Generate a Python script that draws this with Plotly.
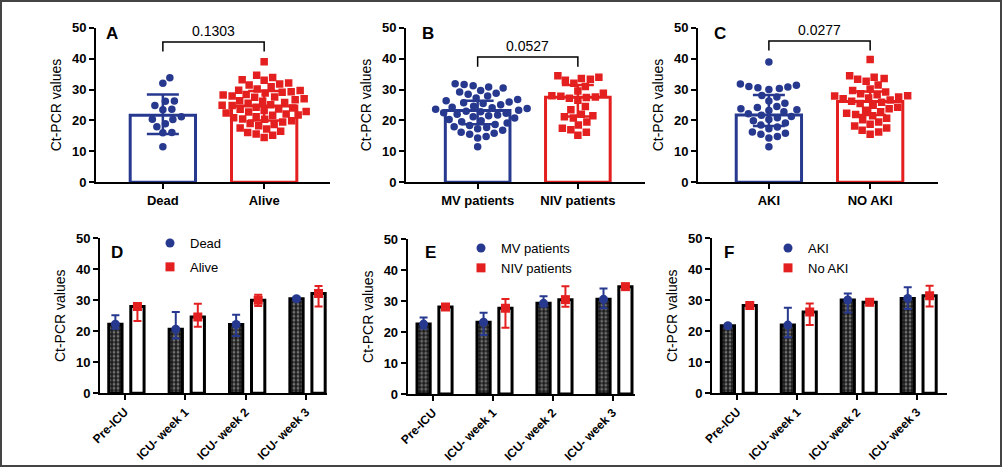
import plotly.graph_objects as go

W, H = 1004, 469
BLUE = "#27398f"
RED = "#e3201f"
FONT = "Liberation Sans, Arial, sans-serif"

# ---- top row: individual Ct values (median + IQR bars) ----
dead_vals = [33.8, 32.0, 26.3, 26.2, 24.8, 23.6, 23.5, 21.2, 20.4, 20.3, 18.9, 18.0, 16.1, 16.0, 11.5]
alive_vals = [39.0, 34.6, 33.9, 33.2, 33.0, 32.1, 31.8, 31.5, 30.9, 30.2, 29.8, 29.7, 29.3, 29.1,
              28.9, 28.4, 28.2, 27.9, 27.6, 27.5, 27.0, 26.7, 26.4, 26.2, 25.8, 25.6, 25.1, 24.9,
              24.8, 24.3, 24.0, 23.7, 23.6, 23.2, 22.9, 22.7, 22.4, 22.1, 21.8, 21.7, 21.2, 20.9,
              20.5, 20.4, 19.9, 19.5, 19.0, 18.7, 18.3, 17.6, 17.2, 16.5, 16.1, 15.6, 15.2, 14.5]
mv_vals = [31.9, 31.6, 31.2, 30.8, 30.5, 29.7, 29.2, 28.8, 28.5, 27.9, 27.3, 26.8, 26.4, 26.0,
           25.7, 25.5, 25.1, 24.6, 24.3, 24.1, 23.9, 23.6, 23.3, 23.0, 22.8, 22.5, 22.3, 22.0,
           21.8, 21.5, 21.2, 20.8, 20.3, 19.9, 19.6, 19.2, 18.7, 18.4, 18.0, 17.7, 17.3, 16.8,
           16.2, 15.9, 15.5, 14.8, 14.3, 11.5]
niv_vals = [34.5, 34.0, 33.6, 33.3, 33.0, 32.0, 31.0, 29.5, 28.8, 28.0, 27.8, 27.6, 27.4, 27.2,
            26.5, 24.5, 23.5, 22.0, 21.5, 21.2, 20.8, 19.5, 18.5, 17.5, 17.0, 16.2, 15.2]
aki_vals = [38.9, 31.8, 31.4, 31.0, 30.8, 30.6, 30.3, 30.0, 28.1, 27.6, 26.3, 25.6, 24.5, 24.2,
            23.8, 23.5, 23.2, 22.8, 22.2, 21.7, 21.3, 20.9, 20.3, 19.9, 19.2, 18.5, 17.9, 17.3,
            16.3, 15.9, 15.5, 14.8, 14.3, 11.5]
noaki_vals = [39.7, 34.5, 34.0, 33.6, 33.3, 32.7, 31.5, 30.2, 29.7, 29.2, 28.6, 28.3, 28.0, 27.9,
              27.6, 27.3, 27.0, 26.6, 26.2, 25.9, 25.5, 24.9, 24.3, 23.8, 23.3, 22.8, 22.3, 21.9,
              21.5, 20.7, 20.2, 19.5, 18.8, 18.2, 17.6, 16.8, 16.3, 15.5]

top_groups = [["Dead", "Alive"], ["MV patients", "NIV patients"], ["AKI", "NO AKI"]]
top_points = [[dead_vals, alive_vals], [mv_vals, niv_vals], [aki_vals, noaki_vals]]
top_median = [[21.7, 24.7], [23.2, 27.5], [21.8, 26.1]]
top_q1 = [[15.6, 20.0], [18.8, 21.3], [18.2, 21.8]]
top_q3 = [[28.4, 29.5], [26.4, 31.5], [28.2, 29.4]]
p_values = ["0.1303", "0.0527", "0.0277"]
top_letters = ["A", "B", "C"]

# ---- bottom row: follow-up over time ----
periods = ["Pre-ICU", "ICU- week 1", "ICU- week 2", "ICU- week 3"]
bot_names = [["Dead", "Alive"], ["MV patients", "NIV patients"], ["AKI", "No AKI"]]
bot_value = [
    [[22.3, 20.7, 22.2, 30.5], [28.0, 24.6, 30.0, 32.2]],
    [[22.6, 23.2, 29.3, 30.6], [28.1, 27.7, 30.5, 34.7]],
    [[21.8, 22.0, 30.1, 30.6], [28.3, 26.2, 29.4, 31.5]],
]
bot_low = [
    [[20.8, 17.7, 18.5, 30.0], [23.3, 21.5, 28.2, 28.0]],
    [[21.2, 19.1, 28.3, 27.7], [27.6, 21.4, 28.2, 34.2]],
    [[21.3, 18.1, 26.1, 27.2], [27.5, 22.0, 28.4, 28.0]],
]
bot_high = [
    [[25.2, 26.2, 25.3, 31.0], [28.6, 28.9, 31.8, 34.6]],
    [[24.7, 26.3, 31.6, 34.1], [28.5, 30.7, 34.8, 35.1]],
    [[22.2, 27.6, 32.2, 34.2], [29.0, 29.0, 30.4, 34.7]],
]
bot_letters = ["D", "E", "F"]

# panel geometry in pixels: (x_left, x_right, y_top, y_bottom)
top_box = [(96, 330, 27.7, 182.3), (406, 645, 27.7, 182.3), (698, 938, 27.7, 182.3)]
top_xrange = [(-0.66, 1.65), (-0.715, 1.67), (-0.70, 1.67)]
bot_box = [(100, 327, 238.3, 393.3), (407.7, 635, 239.3, 394), (712, 947, 238.3, 393.3)]
bot_xrange = [(-0.41, 3.35), (-0.42, 3.37), (-0.42, 3.5)]


def swarm(values, ppx, ppy, diam):
    # simple beeswarm: push each point sideways until it no longer overlaps
    placed = []
    offs = [0.0] * len(values)
    cand = [0.0]
    for k in range(1, 400):
        cand += [k * 0.5, -k * 0.5]
    for i in sorted(range(len(values)), key=lambda j: values[j]):
        y = values[i] * ppy
        for c in cand:
            if all((c - a) ** 2 + (y - b) ** 2 >= diam ** 2 for a, b in placed):
                placed.append((c, y))
                offs[i] = c / ppx
                break
    return offs


fig = go.Figure()
layout = dict(
    width=W, height=H, margin=dict(l=0, r=0, t=0, b=0, autoexpand=False),
    paper_bgcolor="white", plot_bgcolor="white",
    barmode="overlay", showlegend=True,
    font=dict(family=FONT, color="black", size=13),
)
annotations = []
shapes = []

axis_common = dict(showgrid=False, zeroline=False, showline=True, linecolor="black",
                   linewidth=2, ticks="outside", tickcolor="black", tickwidth=2,
                   ticklen=5, fixedrange=True, automargin=False)

colors = [BLUE, RED]
symbols = ["circle", "square"]

# top panels
for p in range(3):
    n = p + 1
    xa = "x" if n == 1 else f"x{n}"
    ya = "y" if n == 1 else f"y{n}"
    x0, x1, yt, yb = top_box[p]
    xr = top_xrange[p]
    ppx = (x1 - x0) / (xr[1] - xr[0])
    ppy = (yb - yt) / 50.0
    for g in range(2):
        fig.add_trace(go.Bar(
            x=[g], y=[top_median[p][g]], width=0.645, xaxis=xa, yaxis=ya,
            marker=dict(color="rgba(255,255,255,0)", line=dict(color=colors[g], width=3)),
            showlegend=False, hoverinfo="skip"))
        vals = top_points[p][g]
        offs = swarm(vals, ppx, ppy, 8.6)
        fig.add_trace(go.Scatter(
            x=[g + o for o in offs], y=vals, mode="markers", xaxis=xa, yaxis=ya,
            marker=dict(symbol=symbols[g], size=7.5, color=colors[g], line=dict(width=0)),
            showlegend=False, name=top_groups[p][g]))
        med = top_median[p][g]
        fig.add_trace(go.Scatter(
            x=[g], y=[med], mode="markers", xaxis=xa, yaxis=ya,
            marker=dict(size=1, color="rgba(0,0,0,0)"),
            error_y=dict(type="data", symmetric=False,
                         array=[top_q3[p][g] - med], arrayminus=[med - top_q1[p][g]],
                         color=colors[g], thickness=2.5, width=16),
            showlegend=False, hoverinfo="skip"))
    key = "" if n == 1 else str(n)
    layout["xaxis" + key] = dict(axis_common, domain=[x0 / W, x1 / W], range=list(xr),
                                 anchor=ya, tickvals=[0, 1], ticktext=top_groups[p],
                                 tickfont=dict(family=FONT, size=13, color="black", weight="bold"))
    layout["yaxis" + key] = dict(axis_common, domain=[1 - yb / H, 1 - yt / H], range=[0, 50],
                                 anchor=xa, tickvals=[0, 10, 20, 30, 40, 50],
                                 tickfont=dict(family=FONT, size=13, color="black", weight="bold"),
                                 title=dict(text="Ct-PCR values", standoff=7,
                                            font=dict(family=FONT, size=14, color="black")))
    # significance bracket
    bt = [45.4, 40.5, 45.7][p]
    shapes.append(dict(type="path", xref=xa, yref=ya,
                       path=f"M 0 {bt - 3.1} L 0 {bt} L 1 {bt} L 1 {bt - 3.1}",
                       line=dict(color="black", width=1.5)))
    annotations.append(dict(x=0.5, y=bt + 0.3, xref=xa, yref=ya, text=p_values[p],
                            showarrow=False, yanchor="bottom",
                            font=dict(family=FONT, size=14, color="black")))

letter_pos_top = [(112, 33), (428, 33), (720, 33)]
for p in range(3):
    lx, ly = letter_pos_top[p]
    annotations.append(dict(x=lx / W, y=1 - ly / H, xref="paper", yref="paper",
                            xanchor="center", yanchor="middle",
                            text=f"<b>{top_letters[p]}</b>", showarrow=False,
                            font=dict(family=FONT, size=17, color="black")))

# bottom panels
shift = [-0.155, 0.21]
legend_pos = [(150, 228), (461, 233), (768, 233)]
legend_gap = [4, 0, 0]
for p in range(3):
    n = p + 4
    xa, ya = f"x{n}", f"y{n}"
    x0, x1, yt, yb = bot_box[p]
    xr = bot_xrange[p]
    lg = "legend" if p == 0 else f"legend{p + 1}"
    for g in range(2):
        xs = [i + shift[g] for i in range(len(periods))]
        if g == 0:
            mk = dict(color="#1a1a1a", line=dict(color="black", width=3),
                      pattern=dict(shape=".", fgcolor="#c8c8c8", bgcolor="#1a1a1a",
                                   size=4, solidity=0.4))
        else:
            mk = dict(color="white", line=dict(color="black", width=3))
        fig.add_trace(go.Bar(x=xs, y=bot_value[p][g], width=0.22, xaxis=xa, yaxis=ya,
                             marker=mk, showlegend=False, hoverinfo="skip"))
    for g in range(2):
        xs = [i + shift[g] for i in range(len(periods))]
        v = bot_value[p][g]
        fig.add_trace(go.Scatter(
            x=xs, y=v, mode="markers", xaxis=xa, yaxis=ya, name=bot_names[p][g],
            legend=lg, legendgroup=f"{p}-{g}",
            marker=dict(symbol=symbols[g], size=9, color=colors[g]),
            error_y=dict(type="data", symmetric=False,
                         array=[h - m for h, m in zip(bot_high[p][g], v)],
                         arrayminus=[m - lo for m, lo in zip(v, bot_low[p][g])],
                         color=colors[g], thickness=2, width=4)))
    layout[f"xaxis{n}"] = dict(axis_common, domain=[x0 / W, x1 / W], range=list(xr),
                               anchor=ya, tickvals=list(range(len(periods))), ticktext=periods,
                               tickangle=-45,
                               tickfont=dict(family=FONT, size=12, color="black", weight="bold"))
    layout[f"yaxis{n}"] = dict(axis_common, domain=[1 - yb / H, 1 - yt / H], range=[0, 50],
                               anchor=xa, tickvals=[0, 10, 20, 30, 40, 50],
                               tickfont=dict(family=FONT, size=13, color="black", weight="bold"),
                               title=dict(text="Ct-PCR values", standoff=7,
                                          font=dict(family=FONT, size=14, color="black")))
    lx, ly = legend_pos[p]
    layout[lg] = dict(x=lx / W, y=1 - ly / H, xanchor="left", yanchor="top",
                      bgcolor="rgba(0,0,0,0)", traceorder="grouped",
                      tracegroupgap=legend_gap[p],
                      font=dict(family=FONT, size=13, color="black"))

letter_pos_bot = [(117, 252), (430, 252), (729, 252)]
for p in range(3):
    lx, ly = letter_pos_bot[p]
    annotations.append(dict(x=lx / W, y=1 - ly / H, xref="paper", yref="paper",
                            xanchor="center", yanchor="middle",
                            text=f"<b>{bot_letters[p]}</b>", showarrow=False,
                            font=dict(family=FONT, size=17, color="black")))

# outer frame
shapes.append(dict(type="rect", xref="paper", yref="paper", x0=0.001, y0=1 - 466 / H,
                   x1=1001 / W, y1=0.998, line=dict(color="#444444", width=2)))

layout["annotations"] = annotations
layout["shapes"] = shapes
fig.update_layout(**layout)
fig.write_html("out.html", config={"displayModeBar": False},
               post_script="document.body.style.margin='0';")
